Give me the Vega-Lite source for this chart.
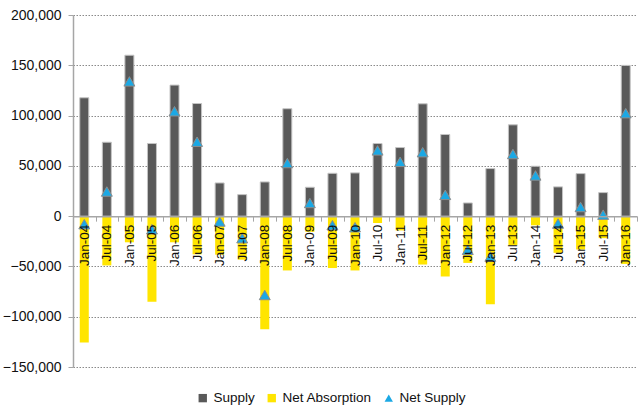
{
  "$schema": "https://vega.github.io/schema/vega-lite/v6.json",
  "autosize": {"type": "none"},
  "width": 564,
  "height": 352,
  "padding": {"left": 73, "top": 15, "right": 1, "bottom": 40},
  "background": "white",
  "config": {
    "view": {"stroke": null},
    "font": "Liberation Sans"
  },
  "data": {
    "values": [
      {"period": "Jan-04", "Supply": 117700, "Net Absorption": -125700, "Net Supply": -8000},
      {"period": "Jul-04", "Supply": 73500, "Net Absorption": -49000, "Net Supply": 24500},
      {"period": "Jan-05", "Supply": 160000, "Net Absorption": -26000, "Net Supply": 134000},
      {"period": "Jul-05", "Supply": 72200, "Net Absorption": -85200, "Net Supply": -13000},
      {"period": "Jan-06", "Supply": 130300, "Net Absorption": -26000, "Net Supply": 104300},
      {"period": "Jul-06", "Supply": 112000, "Net Absorption": -38000, "Net Supply": 74000},
      {"period": "Jan-07", "Supply": 33000, "Net Absorption": -38300, "Net Supply": -5300},
      {"period": "Jul-07", "Supply": 21400, "Net Absorption": -43300, "Net Supply": -21900},
      {"period": "Jan-08", "Supply": 34000, "Net Absorption": -112400, "Net Supply": -78400},
      {"period": "Jul-08", "Supply": 106800, "Net Absorption": -54000, "Net Supply": 52800},
      {"period": "Jan-09", "Supply": 28700, "Net Absorption": -15600, "Net Supply": 13100},
      {"period": "Jul-09", "Supply": 42600, "Net Absorption": -51600, "Net Supply": -9000},
      {"period": "Jan-10", "Supply": 43000, "Net Absorption": -54000, "Net Supply": -11000},
      {"period": "Jul-10", "Supply": 72200, "Net Absorption": -6800, "Net Supply": 65400},
      {"period": "Jan-11", "Supply": 68200, "Net Absorption": -14200, "Net Supply": 54000},
      {"period": "Jul-11", "Supply": 111700, "Net Absorption": -48100, "Net Supply": 63600},
      {"period": "Jan-12", "Supply": 81200, "Net Absorption": -60000, "Net Supply": 21200},
      {"period": "Jul-12", "Supply": 13100, "Net Absorption": -46500, "Net Supply": -33400},
      {"period": "Jan-13", "Supply": 47300, "Net Absorption": -87500, "Net Supply": -40200},
      {"period": "Jul-13", "Supply": 90800, "Net Absorption": -29000, "Net Supply": 61800},
      {"period": "Jan-14", "Supply": 49600, "Net Absorption": -9100, "Net Supply": 40500},
      {"period": "Jul-14", "Supply": 29100, "Net Absorption": -36500, "Net Supply": -7400},
      {"period": "Jan-15", "Supply": 42300, "Net Absorption": -33200, "Net Supply": 9100},
      {"period": "Jul-15", "Supply": 23400, "Net Absorption": -21900, "Net Supply": 1500},
      {"period": "Jan-16", "Supply": 149900, "Net Absorption": -47500, "Net Supply": 102400}
    ]
  },
  "transform": [
    {"fold": ["Supply", "Net Absorption", "Net Supply"], "as": ["series", "value"]}
  ],
  "encoding": {
    "x": {
      "field": "period",
      "type": "nominal",
      "sort": null,
      "scale": {"paddingInner": 0, "paddingOuter": 0},
      "axis": {
        "title": null,
        "orient": "bottom",
        "offset": -150.86,
        "labelAngle": -90,
        "labelFontSize": 13.5,
        "labelColor": "#111111",
        "labelPadding": 3,
        "tickBand": "extent",
        "tickSize": 5,
        "tickColor": "#A6A6A6",
        "tickWidth": 1,
        "domainColor": "#A6A6A6",
        "domainWidth": 1.5,
        "grid": false,
        "zindex": 1
      }
    },
    "y": {
      "field": "value",
      "type": "quantitative",
      "stack": null,
      "scale": {"domain": [-150000, 200000], "nice": false, "zero": false},
      "axis": {
        "title": null,
        "values": [-150000, -100000, -50000, 0, 50000, 100000, 150000, 200000],
        "format": ",.0f",
        "labelFontSize": 14,
        "labelColor": "#111111",
        "labelPadding": 7,
        "tickSize": 5,
        "tickColor": "#A6A6A6",
        "domainColor": "#A6A6A6",
        "domainWidth": 1.5,
        "grid": true,
        "gridColor": "#8A8A8A",
        "gridOpacity": 1,
        "gridDash": [1.5, 1.5],
        "gridWidth": 1
      }
    },
    "color": {
      "field": "series",
      "type": "nominal",
      "scale": {
        "domain": ["Supply", "Net Absorption", "Net Supply"],
        "range": ["#595959", "#FFE500", "#1BA8E4"]
      },
      "legend": {
        "title": null,
        "orient": "none",
        "direction": "horizontal",
        "legendX": 123,
        "legendY": 376,
        "labelFontSize": 13.5,
        "labelColor": "#111111",
        "labelOffset": 4,
        "columnPadding": 10,
        "symbolSize": 70,
        "symbolStrokeWidth": 0
      }
    },
    "shape": {
      "field": "series",
      "type": "nominal",
      "scale": {
        "domain": ["Supply", "Net Absorption", "Net Supply"],
        "range": ["square", "square", "triangle-up"]
      },
      "legend": {
        "title": null,
        "orient": "none",
        "direction": "horizontal",
        "legendX": 123,
        "legendY": 376,
        "labelFontSize": 13.5,
        "labelColor": "#111111",
        "labelOffset": 4,
        "columnPadding": 10,
        "symbolSize": 70,
        "symbolStrokeWidth": 0
      }
    }
  },
  "layer": [
    {
      "transform": [{"filter": "datum.series === 'Net Absorption'"}],
      "mark": {"type": "bar", "size": 9}
    },
    {
      "transform": [{"filter": "datum.series === 'Supply'"}],
      "mark": {"type": "bar", "size": 9, "stroke": "#C4C4C4", "strokeWidth": 1}
    },
    {
      "transform": [{"filter": "datum.series === 'Net Supply'"}],
      "mark": {"type": "point", "filled": true, "size": 120, "stroke": "#8C8C8C", "strokeWidth": 1, "opacity": 1}
    }
  ]
}
